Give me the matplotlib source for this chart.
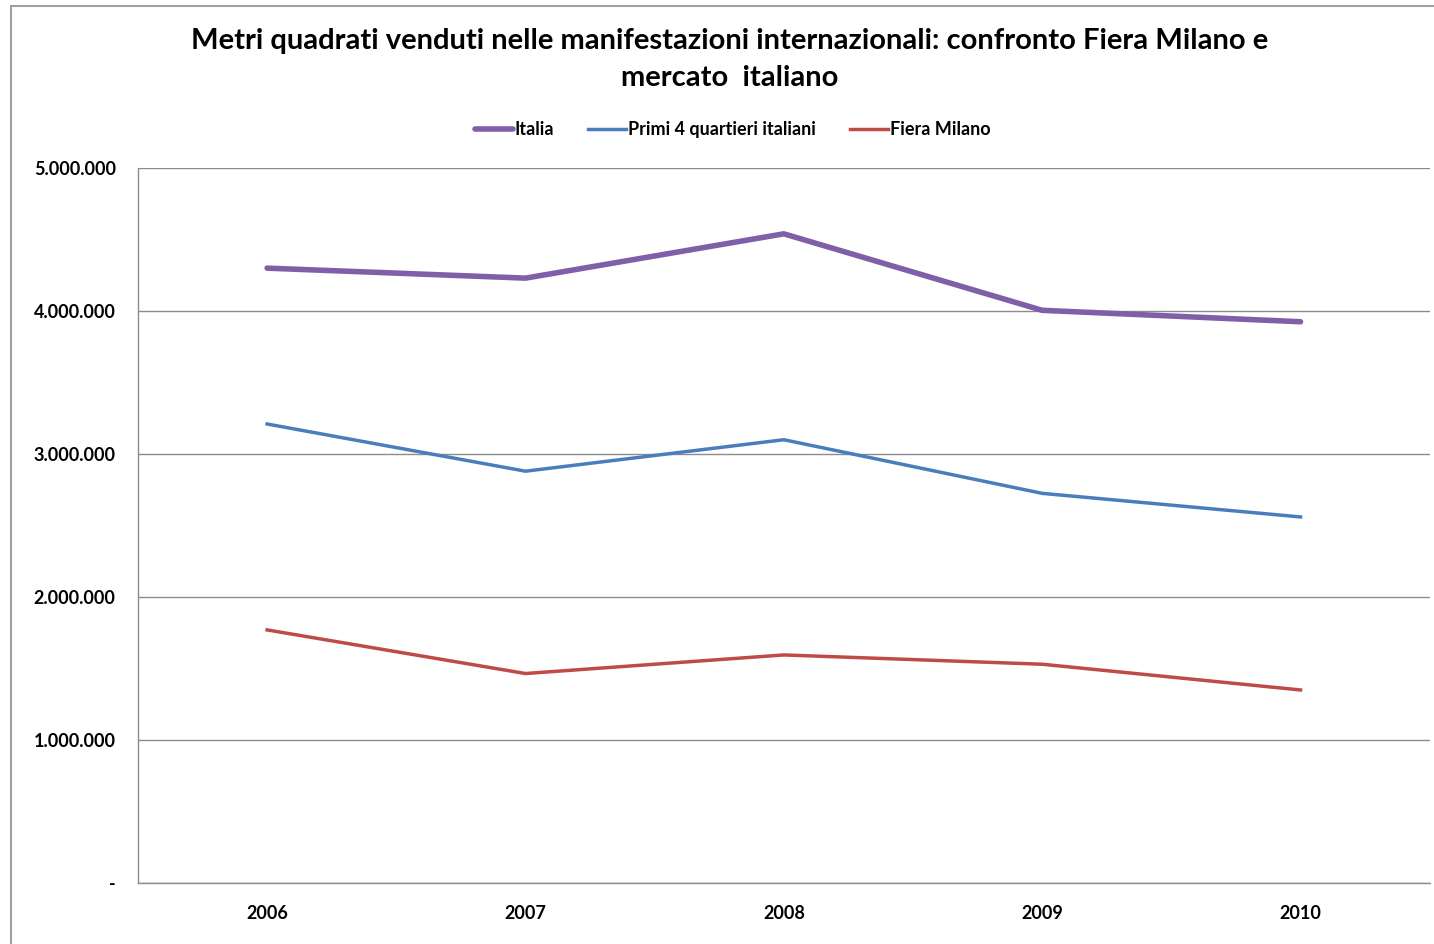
import matplotlib
matplotlib.use("Agg")
import matplotlib.pyplot as plt
from matplotlib.patches import Rectangle
from matplotlib.ticker import FuncFormatter

plt.rcParams['font.family'] = ['Lato', 'DejaVu Sans']

anni = ['2006', '2007', '2008', '2009', '2010']
italia = [4300000, 4230000, 4540000, 4005000, 3925000]
primi4 = [3210000, 2880000, 3100000, 2725000, 2560000]
fiera_milano = [1770000, 1465000, 1595000, 1530000, 1350000]

fig = plt.figure(figsize=(14.34, 9.44), dpi=100)
ax = fig.add_axes([0.0962, 0.0646, 0.9008, 0.7574])

# cornice esterna
fig.patches.append(Rectangle((11 / 1434, -0.01), 1.05, 1 - 6 / 944 + 0.01,
                             transform=fig.transFigure, fill=False,
                             edgecolor='#a0a0a0', linewidth=1.5))

x = range(len(anni))
ax.plot(x, italia, color='#7F60A8', linewidth=4, label='Italia', solid_capstyle='round')
ax.plot(x, primi4, color='#4A7EBB', linewidth=2.5, label='Primi 4 quartieri italiani')
ax.plot(x, fiera_milano, color='#BE4B48', linewidth=2.5, label='Fiera Milano')

ax.set_xlim(-0.5, 4.5)
ax.set_ylim(0, 5000000)
ax.set_xticks(list(x))
ax.set_xticklabels(anni)
ax.set_yticks([0, 1000000, 2000000, 3000000, 4000000, 5000000])


def fmt(v, pos):
    if v == 0:
        return '-'
    return '{:,.0f}'.format(v).replace(',', '.')


ax.yaxis.set_major_formatter(FuncFormatter(fmt))
ax.grid(axis='y', color='#8c8c8c', linewidth=1)
ax.set_axisbelow(True)
for s in ['top', 'right']:
    ax.spines[s].set_visible(False)
for s in ['left', 'bottom']:
    ax.spines[s].set_color('#8c8c8c')
    ax.spines[s].set_linewidth(1)
ax.tick_params(length=0, labelsize=13)
ax.tick_params(axis='y', pad=16)
ax.tick_params(axis='x', pad=16)
for t in ax.get_xticklabels() + ax.get_yticklabels():
    t.set_fontweight('bold')

fig.text(0.509, 0.957, 'Metri quadrati venduti nelle manifestazioni internazionali: confronto Fiera Milano e',
         ha='center', va='center', fontsize=21, fontweight='bold')
fig.text(0.509, 0.917, 'mercato  italiano', ha='center', va='center', fontsize=21, fontweight='bold')

fig.legend(loc='center', bbox_to_anchor=(0.511, 0.863), ncol=3, frameon=False,
           prop={'size': 13, 'weight': 'bold'}, handlelength=2.1, handletextpad=0.1,
           columnspacing=1.9)

fig.savefig('out.png', dpi=100)
